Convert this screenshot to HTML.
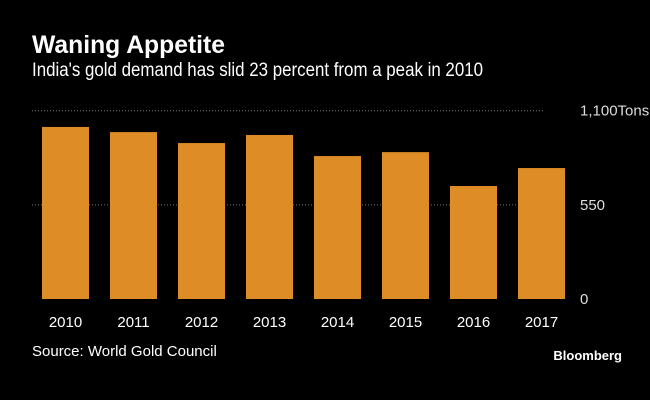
<!DOCTYPE html>
<html><head><meta charset="utf-8">
<style>
html,body{margin:0;padding:0;background:#000;}
svg{display:block;}
text{font-family:"Liberation Sans Narrow","Liberation Sans",sans-serif;}
</style></head>
<body>
<svg id="chart" width="650" height="400" viewBox="0 0 650 400">
<rect width="650" height="400" fill="#000"/>
<text x="32" y="53" fill="#fff" font-size="25" font-weight="bold" textLength="193" lengthAdjust="spacingAndGlyphs">Waning Appetite</text>
<text x="32" y="76" fill="#fff" font-size="19" textLength="451" lengthAdjust="spacingAndGlyphs">India's gold demand has slid 23 percent from a peak in 2010</text>
<g id="grid"></g>
<g id="bars"></g>
<g id="xlabels"></g>
<text x="32" y="356" fill="#fff" font-size="15">Source: World Gold Council</text>
<text x="622" y="360" fill="#fff" font-size="13" font-weight="bold" text-anchor="end">Bloomberg</text>
</svg>
<script>
const categories = ["2010","2011","2012","2013","2014","2015","2016","2017"];
const demand = [1005, 975, 911, 958, 835, 858, 660, 765];
const tickValues = [0, 550, 1100];
const tickLabels = ["0", "550", "1,100Tons"];

const NS = "http://www.w3.org/2000/svg";
const y0 = 299, y1 = 110.7, maxV = 1100;
function yScale(v){ return y0 - (v / maxV) * (y0 - y1); }
const xStart = 42, step = 68, barW = 47;
function xScale(i){ return xStart + i * step; }

const grid = document.getElementById("grid");
tickValues.forEach((t, i) => {
  const y = yScale(t);
  if (t !== 0) {
    const ln = document.createElementNS(NS, "line");
    ln.setAttribute("x1", 32); ln.setAttribute("x2", 545);
    ln.setAttribute("y1", y); ln.setAttribute("y2", y);
    ln.setAttribute("stroke", "#777"); ln.setAttribute("stroke-width", "1");
    ln.setAttribute("stroke-dasharray", "1 2");
    
    
    grid.appendChild(ln);
  }
  const tx = document.createElementNS(NS, "text");
  tx.setAttribute("x", 580); tx.setAttribute("y", y + 5);
  tx.setAttribute("fill", "#ddd"); tx.setAttribute("font-size", "15");
  tx.textContent = tickLabels[i];
  
  
  grid.appendChild(tx);
});

const bars = document.getElementById("bars");
const xl = document.getElementById("xlabels");
categories.forEach((c, i) => {
  const r = document.createElementNS(NS, "rect");
  const top = yScale(demand[i]);
  r.setAttribute("x", xScale(i)); r.setAttribute("y", top);
  r.setAttribute("width", barW); r.setAttribute("height", y0 - top);
  r.setAttribute("fill", "#de8c26");
  
  
  bars.appendChild(r);
  const t = document.createElementNS(NS, "text");
  t.setAttribute("x", xScale(i) + barW / 2); t.setAttribute("y", 327);
  t.setAttribute("fill", "#fff"); t.setAttribute("font-size", "15");
  t.setAttribute("text-anchor", "middle");
  t.textContent = c;
  
  
  xl.appendChild(t);
});
</script>
</body></html>
